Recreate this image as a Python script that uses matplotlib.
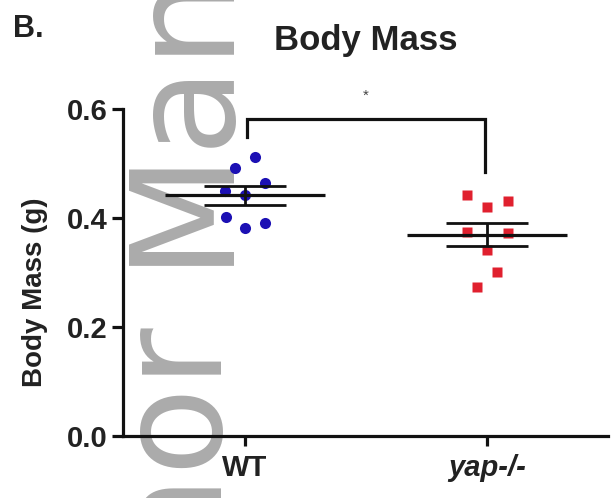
import matplotlib
matplotlib.use('Agg')
import matplotlib.pyplot as plt
import numpy as np

# body mass (g) per animal
groups = ['WT', 'yap-/-']
wt_mass = [0.512, 0.491, 0.464, 0.450, 0.442, 0.401, 0.381, 0.391]
yap_mass = [0.442, 0.421, 0.431, 0.375, 0.373, 0.341, 0.301, 0.273]
ytick_vals = [0.0, 0.2, 0.4, 0.6]
ytick_labels = ['0.0', '0.2', '0.4', '0.6']
signif = '*'

plt.rcParams['font.family'] = ['Liberation Sans', 'DejaVu Sans']

W, H = 616, 498
fig = plt.figure(figsize=(W / 100, H / 100), dpi=100)
ax = fig.add_axes([123 / W, 62 / H, 485 / W, 327 / H])
ax.set_facecolor('none')

# watermark behind the plot
wm = dict(fontsize=104, family='DejaVu Sans', color='#ababab', rotation=90,
          rotation_mode='anchor', va='baseline', zorder=-5)
fig.text(221 / W, 1 - 325 / H, 'Author', ha='right', **wm)
fig.text(221 / W, 1 - 265 / H, 'Manuscript', ha='left', **wm)

# column scatter spread (x offsets)
wt_jit = [0.041, -0.041, 0.083, -0.083, 0.0, -0.079, 0.0, 0.083]
yap_jit = [-0.083, 0.0, 0.087, -0.083, 0.087, 0.0, 0.041, -0.041]

ax.plot(np.add(0, wt_jit), wt_mass, 'o', ms=8, color='#1c10b4', mec='none', zorder=3)
ax.plot(np.add(1, yap_jit), yap_mass, 's', ms=7.5, color='#e0202e', mec='none', zorder=3)

for i, vals in enumerate([wt_mass, yap_mass]):
    v = np.array(vals)
    m = v.mean()
    se = v.std(ddof=1) / np.sqrt(len(v))
    ax.hlines(m, i - 0.33, i + 0.33, color='#111111', lw=2.3, zorder=4)
    ax.hlines([m - se, m + se], i - 0.17, i + 0.17, color='#111111', lw=2.0, zorder=4)
    ax.vlines(i, m - se, m + se, color='#111111', lw=2.0, zorder=4)

# significance bracket
ax.plot([0.01, 0.01, 0.99, 0.99], [0.549, 0.581, 0.581, 0.485], color='#111111',
        lw=2.3, clip_on=False, solid_joinstyle='miter')
ax.text(0.5, 0.624, signif, ha='center', va='center', fontsize=11,
        color='#444444', clip_on=False)

ax.set_xlim(-0.504, 1.5)
ax.set_ylim(0, 0.6)
ax.spines['top'].set_visible(False)
ax.spines['right'].set_visible(False)
for s in ['left', 'bottom']:
    ax.spines[s].set_linewidth(2.3)
    ax.spines[s].set_color('#111111')

ax.set_yticks(ytick_vals)
ax.set_yticklabels(ytick_labels, fontsize=21, fontweight='bold', color='#222222')
ax.set_xticks([0, 1])
ax.set_xticklabels(groups, fontsize=21, fontweight='bold', color='#222222')
ax.get_xticklabels()[1].set_style('italic')
ax.tick_params(axis='y', length=8, width=2.3, pad=3, color='#111111')
ax.tick_params(axis='x', length=7, width=2.3, pad=6, color='#111111')

fig.text(35 / W, 1 - 292 / H, 'Body Mass (g)', rotation=90, ha='center', va='center',
         fontsize=20, fontweight='bold', color='#222222')
fig.text(366 / W, 1 - 50 / H, 'Body Mass', ha='center', va='baseline',
         fontsize=25, fontweight='bold', color='#222222')
fig.text(13 / W, 1 - 37 / H, 'B.', ha='left', va='baseline',
         fontsize=22, fontweight='bold', color='#222222')

fig.savefig('out.png', dpi=100)
